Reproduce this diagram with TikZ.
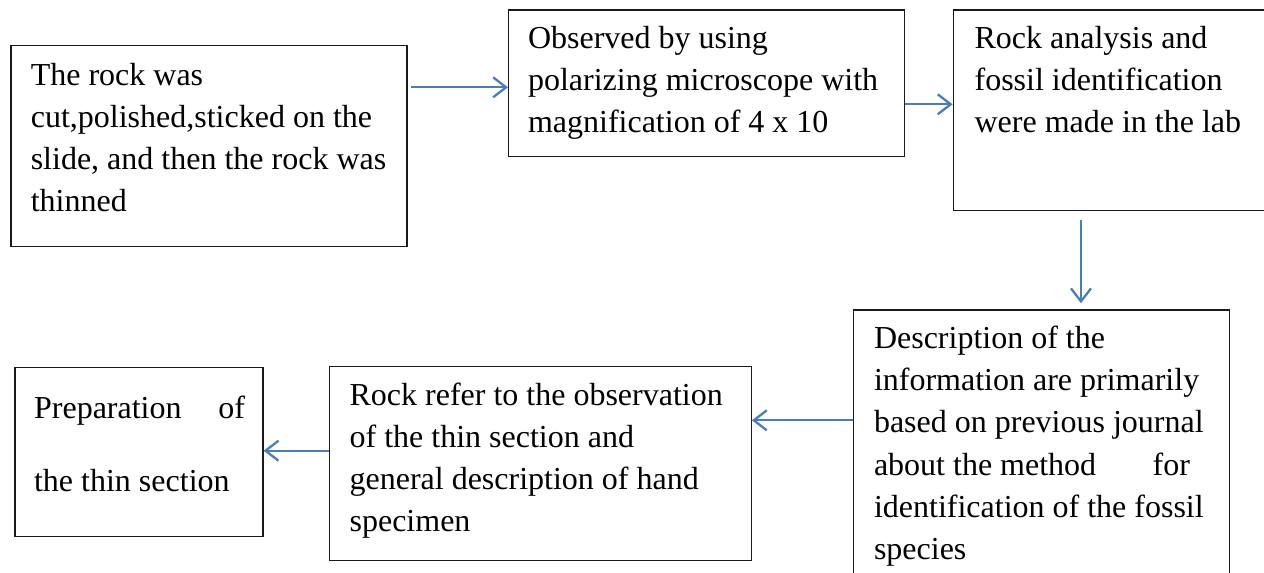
\documentclass[tikz,border=0pt]{standalone}
\usepackage{fontspec}
\setmainfont{Liberation Serif}
\usetikzlibrary{arrows.meta}
\definecolor{arrowblue}{HTML}{4A7EBB}
\definecolor{boxline}{HTML}{1A1A1A}
\newcommand{\natsp}{\spaceskip=0pt\xspaceskip=0pt\relax}
\begin{document}
\begin{tikzpicture}[x=1pt,y=-1pt,
  box/.style={draw=boxline, line width=1.3pt, inner sep=0pt, anchor=north west},
  txt/.style={anchor=base west, inner sep=0pt, align=left, text width=#1,
    font=\fontsize{32}{42.3}\selectfont},
  arr/.style={draw=arrowblue, line width=2.3pt, -{Straight Barb[length=13pt,width=20pt]}}]
\useasboundingbox (0,0) rectangle (1264,573);
% boxes
\node[box, minimum width=396pt, minimum height=201pt] (b1) at (10.2,45) {};
\node[box, minimum width=395.5pt, minimum height=146.7pt] (b2) at (508,9.3) {};
\node[box, minimum width=330pt, minimum height=200.7pt] (b3) at (952.6,9.3) {};
\node[box, minimum width=375.6pt, minimum height=280pt] (b4) at (853,309.3) {};
\node[box, minimum width=421.6pt, minimum height=194pt] (b5) at (329,366) {};
\node[box, minimum width=248pt, minimum height=169.3pt] (b6) at (14.3,366.7) {};
% texts
\node[txt=370pt] (t1) at (30.6,85) {\natsp The rock was\\cut,polished,sticked on the\\slide, and then the rock was\\thinned};
\node[txt=370pt] (t2) at (527.8,48.3) {\natsp Observed by using\\polarizing microscope with\\magnification of 4 x 10};
\node[txt=290pt] (t3) at (974.4,48.3) {\natsp Rock analysis and\\fossil identification\\were made in the lab};
\node[txt=350pt] (t4) at (873.8,348.3) {\natsp Description of the\\information are primarily\\based on previous journal\\\makebox[316pt][s]{about the method\hfill for}\\identification of the fossil\\species};
\node[txt=400pt] (t5) at (349.4,405) {\natsp Rock refer to the observation\\of the thin section and\\general description of hand\\specimen};
\node[txt=225pt] (t6) at (33.9,418) {\natsp\makebox[211pt][s]{Preparation\hfill of}\\[31.4pt]the thin section};
% connectors
\coordinate (a1) at ([shift={(3,42.3)}]b1.north east);
\draw[arr] (a1) -- (b2.west |- a1);
\coordinate (a2) at ([shift={(0,95)}]b2.north east);
\draw[arr] (a2) -- (b3.west |- a2);
\coordinate (a3) at ([shift={(128.4,9)}]b3.south west);
\draw[arr, shorten >=6pt] (a3) -- (a3 |- b4.north);
\coordinate (a4) at ([shift={(0,111)}]b4.north west);
\draw[arr] (a4) -- (b5.east |- a4);
\coordinate (a5) at ([shift={(0,84.7)}]b5.north west);
\draw[arr] (a5) -- (b6.east |- a5);
\end{tikzpicture}
\end{document}
